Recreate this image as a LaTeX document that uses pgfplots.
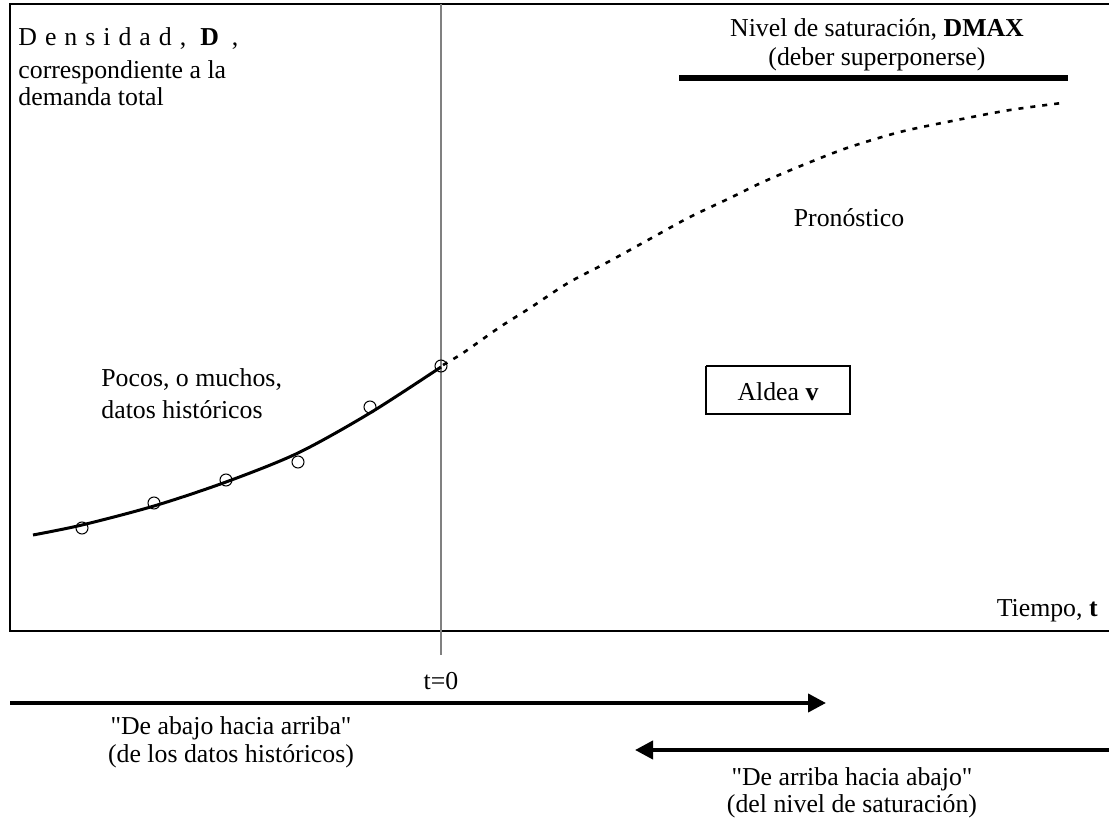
\documentclass[border=0pt]{standalone}
\usepackage{fontspec}
\setmainfont{Liberation Serif}
\newfontfamily\qf{Liberation Serif}
\newcommand\q{{\qf"}}
\usepackage{pgfplots}
\pgfplotsset{compat=1.18}
\usetikzlibrary{arrows.meta}
\tikzset{txt/.style={inner sep=0pt, font=\fontsize{12.9}{15}\selectfont}}
\begin{document}
\fontsize{12.9}{15}\selectfont
\begin{tikzpicture}
\begin{axis}[
  width=554.5pt, height=411.5pt, scale only axis,
  xmin=0, xmax=1109, ymin=0, ymax=823, y dir=reverse,
  hide axis, clip=false,
]
\coordinate (bl) at (axis cs:0,823);
\coordinate (tr) at (axis cs:1109,0);
% frame
\addplot[black, line width=1.1pt] coordinates {(1112,4) (10,4) (10,631) (1112,631)};
% t=0 line
\addplot[gray, line width=0.7pt] coordinates {(441,4) (441,655)};
% saturation level
\addplot[black, line width=3pt] coordinates {(679,78) (1068,78)};
% historical fit
\addplot[black, line width=1.5pt, smooth] coordinates {
 (33,535) (82,525) (154,506) (226,482) (298,453) (370,413) (441,367)};
% forecast
\addplot[black, line width=1.3pt, dash pattern=on 2.5pt off 3.5pt, smooth] coordinates {
 (443,365) (463,353) (500,327) (530,308) (568,283) (608,262) (648,240) (688,218)
 (730,198) (763,182) (803,165) (847,148) (900,132) (957,120) (1010,110) (1062,103)};
% data points
\addplot[only marks, mark=o, mark size=3pt, mark options={line width=0.5pt, black}] coordinates {
 (82,528) (154,503) (226,480) (298,462) (370,407) (441,366)};
% arrows
\addplot[black, line width=2pt, -{Triangle[length=9pt,width=9pt]}] coordinates {(10,703) (826,703)};
\addplot[black, line width=2pt, -{Triangle[length=9pt,width=9pt]}] coordinates {(1112,750) (635,750)};
% Aldea box
\addplot[black, line width=0.6pt] coordinates {(706,366) (850,366) (850,414) (706,414) (706,366)};
% texts
\node[txt, anchor=base west] at (axis cs:18,46) {D\hspace{4pt}e\hspace{4pt}n\hspace{4pt}s\hspace{4pt}i\hspace{4pt}d\hspace{4pt}a\hspace{4pt}d\hspace{4pt},\hspace{7pt}\textbf{D}\hspace{6.5pt},};
\node[txt, anchor=base west] at (axis cs:18,79) {correspondiente a la};
\node[txt, anchor=base west] at (axis cs:18,106) {demanda total};
\node[txt, anchor=base] at (axis cs:877,37) {Nivel de saturación, \textbf{DMAX}};
\node[txt, anchor=base] at (axis cs:877,66) {(deber superponerse)};
\node[txt, anchor=base] at (axis cs:849,227) {Pronóstico};
\node[txt, anchor=center] at (axis cs:778,392) {Aldea \textbf{v}};
\node[txt, anchor=base west] at (axis cs:101,387) {Pocos, o muchos,};
\node[txt, anchor=base west] at (axis cs:101,419) {datos históricos};
\node[txt, anchor=base east] at (axis cs:1098,617) {Tiempo, \textbf{t}};
\node[txt, anchor=base] at (axis cs:441,689) {t=0};
\node[txt, anchor=base] at (axis cs:231,734) {\q De abajo hacia arriba\q};
\node[txt, anchor=base] at (axis cs:231,762) {(de los datos históricos)};
\node[txt, anchor=base] at (axis cs:852,785) {\q De arriba hacia abajo\q};
\node[txt, anchor=base] at (axis cs:852,812) {(del nivel de saturación)};
\end{axis}
\pgfresetboundingbox
\path[use as bounding box] (bl) rectangle (tr);
\end{tikzpicture}
\end{document}
